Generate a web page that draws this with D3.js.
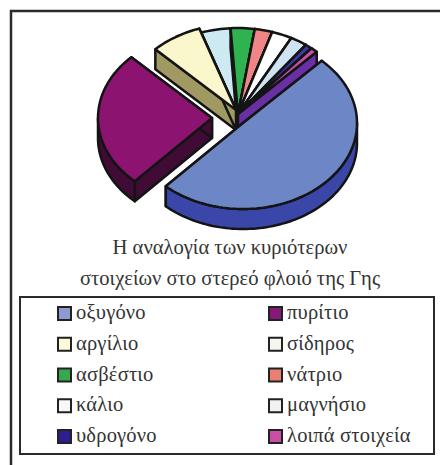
<!DOCTYPE html>
<html>
<head>
<meta charset="utf-8">
<script src="https://cdn.jsdelivr.net/npm/d3@7"></script>
<style>
  html, body { margin: 0; padding: 0; background: #fff; }
  text { font-family: "Liberation Serif", serif; fill: #333; }
</style>
</head>
<body>
<svg id="chart" width="440" height="465"></svg>
<script>
// share of each element (percent)
var elements = ["οξυγόνο", "πυρίτιο", "αργίλιο", "σίδηρος", "ασβέστιο", "νάτριο", "κάλιο", "μαγνήσιο", "υδρογόνο", "λοιπά στοιχεία"];
var shares = [49.8, 25.7, 7.3, 4.2, 3.4, 2.5, 2.9, 2.4, 1.0, 1.0];
var topColors = ["#6d86c6", "#8c1470", "#fbf7cc", "#cde9f2", "#2fb350", "#f08585", "#ffffff", "#cfe3f2", "#3a3aa8", "#c452aa"];
var wallColors = ["#3a46a8", "#400b34", "#a09a62", "#151515", "#151515", "#151515", "#151515", "#151515", "#151515", "#6b2fa5"];
var swatchColors = ["#8d9bd0", "#86187a", "#fdf9d8", "#f6f6f0", "#35a94e", "#ea8072", "#f8f8f8", "#f2f2f2", "#2c1e90", "#c94fa5"];
var explodeX = [5, -26, -2, 0, 0, 0, 0, 0, 0, 0];
var explodeY = [9, 4, -4, 0, 0, 0, 0, 0, 0, 0];
var titleLines = ["Η αναλογία των κυριότερων", "στοιχείων στο στερεό φλοιό της Γης"];

var dimensions = {
    width: 440,
    height: 465,
    cx: 238,
    cy: 114,
    rx: 114,
    ry: 86,
    depth: 20
};

var svg = d3.select("#chart");

// frame, only top and left are inside the picture
svg.append("path")
   .attr("d", "M11,465V11H440")
   .attr("fill", "none")
   .attr("stroke", "#2a2a2a")
   .attr("stroke-width", 2.5);

var startAngle = 43.7 * Math.PI / 180;
var pie = d3.pie().sort(null).value(d => d)
            .startAngle(startAngle)
            .endAngle(startAngle + 2 * Math.PI);

var slices = pie(shares).map((s, i) => ({
    start: s.startAngle,
    end: s.endAngle,
    i: i,
    cx: dimensions.cx + explodeX[i],
    cy: dimensions.cy + explodeY[i]
}));

var rimX = d3.scaleLinear().domain([-1, 1]).range([-dimensions.rx, dimensions.rx]);
var rimY = d3.scaleLinear().domain([-1, 1]).range([-dimensions.ry, dimensions.ry]);

function rim(s, a) {
    return [s.cx + rimX(Math.sin(a)), s.cy + rimY(-Math.cos(a))];
}

function arcPoints(s, from, to) {
    var n = Math.max(2, Math.ceil((to - from) / 0.03));
    return d3.range(n + 1).map(k => rim(s, from + (to - from) * k / n));
}

var line = d3.line();

function down(points) {
    return points.map(p => [p[0], p[1] + dimensions.depth]);
}

function quad(upper) {
    return line(upper.concat(down(upper).reverse())) + "Z";
}

// back slices first, the three pulled out ones on top
var drawOrder = [3, 4, 5, 6, 7, 8, 9, 2, 1, 0];

drawOrder.forEach(function(i) {
    var s = slices[i];
    var g = svg.append("g")
               .attr("stroke", "#141414")
               .attr("stroke-width", 2.5)
               .attr("stroke-linejoin", "round");
    var center = [s.cx, s.cy];

    // radial walls
    [s.start, s.end].forEach(function(a) {
        g.append("path")
         .attr("d", quad([center, rim(s, a)]))
         .attr("fill", wallColors[i]);
    });

    // outer wall, only the part that faces the viewer
    var from = Math.max(s.start, Math.PI / 2);
    var to = Math.min(s.end, 3 * Math.PI / 2);
    if (to > from) {
        g.append("path")
         .attr("d", quad(arcPoints(s, from, to)))
         .attr("fill", wallColors[i]);
    }

    g.append("path")
     .attr("d", line([center].concat(arcPoints(s, s.start, s.end))) + "Z")
     .attr("fill", topColors[i]);
});

// title
svg.append("g")
   .selectAll("text")
   .data(titleLines)
   .enter()
   .append("text")
   .attr("x", 230)
   .attr("y", (d, i) => 254 + i * 31)
   .attr("text-anchor", "middle")
   .attr("font-size", 20.6)
   .text(d => d);

// legend
svg.append("rect")
   .attr("x", 20)
   .attr("y", 297)
   .attr("width", 414)
   .attr("height", 157)
   .attr("fill", "none")
   .attr("stroke", "#2a2a2a")
   .attr("stroke-width", 2);

var legendX = d3.scaleOrdinal().domain([0, 1]).range([58, 269]);
var legendY = d3.scalePoint().domain(d3.range(5)).range([307, 430]);

var legend = svg.append("g")
                .selectAll("g")
                .data(elements)
                .enter()
                .append("g")
                .attr("transform", (d, i) => `translate(${legendX(i % 2)},${legendY(Math.floor(i / 2))})`);

legend.append("rect")
      .attr("width", 13)
      .attr("height", 13)
      .attr("fill", (d, i) => swatchColors[i])
      .attr("stroke", "#222")
      .attr("stroke-width", 2);

legend.append("text")
      .attr("x", 18)
      .attr("y", 12)
      .attr("font-size", 20.5)
      .attr("letter-spacing", 0.2)
      .text(d => d);
</script>
</body>
</html>
